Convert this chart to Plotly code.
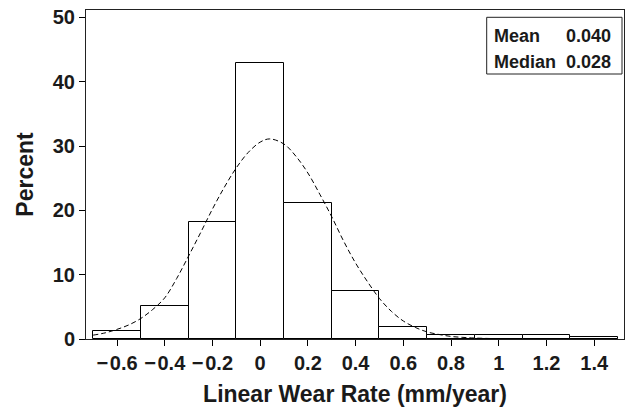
import plotly.graph_objects as go

# Histogram data (percent per 0.2 mm/year bin)
bin_centers = [-0.6, -0.4, -0.2, 0.0, 0.2, 0.4, 0.6, 0.8, 1.0, 1.2, 1.4]
bin_percent = [1.25, 5.2, 18.2, 42.9, 21.2, 7.5, 1.9, 0.7, 0.7, 0.7, 0.3]
bin_width = 0.2

# Fitted normal curve
curve_x = [-0.70, -0.65, -0.60, -0.55, -0.50, -0.45, -0.40, -0.35, -0.30, -0.25,
           -0.20, -0.15, -0.10, -0.05, 0.00, 0.04, 0.10, 0.15, 0.20, 0.25,
           0.30, 0.35, 0.40, 0.45, 0.50, 0.55, 0.60, 0.65, 0.70, 0.75,
           0.80, 0.85, 0.90, 1.00, 1.10, 1.20, 1.30, 1.40, 1.50]
curve_y = [0.6, 0.95, 1.5, 2.2, 3.2, 4.6, 6.4, 9.4, 12.9, 16.5,
           20.2, 23.6, 26.6, 29.0, 30.6, 31.1, 30.3, 28.4, 25.8, 22.5,
           19.0, 15.2, 11.8, 8.9, 6.3, 4.3, 2.8, 1.8, 1.1, 0.7,
           0.4, 0.25, 0.15, 0.05, 0.02, 0.0, 0.0, 0.0, 0.0]

x_tickvals = [-0.6, -0.4, -0.2, 0, 0.2, 0.4, 0.6, 0.8, 1.0, 1.2, 1.4]
x_ticktext = ["\u2212\u200a0.6", "\u2212\u200a0.4", "\u2212\u200a0.2", "0", "0.2", "0.4", "0.6", "0.8", "1", "1.2", "1.4"]
y_tickvals = [0, 10, 20, 30, 40, 50]

stat_labels = ["Mean", "Median"]
stat_values = ["0.040", "0.028"]

FONT = "Liberation Sans, Arial, sans-serif"
TXT = "#1a1a1a"

fig = go.Figure()
fig.add_trace(go.Bar(
    x=bin_centers, y=bin_percent, width=[bin_width] * len(bin_centers),
    marker=dict(color="white", line=dict(color="black", width=1)),
    showlegend=False, hoverinfo="x+y",
))
fig.add_trace(go.Scatter(
    x=curve_x, y=curve_y, mode="lines", line=dict(color="black", width=1, dash="5px,3px", shape="spline"),
    showlegend=False,
))

fig.update_layout(
    width=627, height=410,
    margin=dict(l=86, r=3, t=10, b=71),
    paper_bgcolor="white", plot_bgcolor="white",
    bargap=0,
    font=dict(family=FONT, color="black"),
    xaxis=dict(
        range=[-0.730, 1.525], tickvals=x_tickvals, ticktext=x_ticktext,
        ticks="outside", ticklen=6, tickwidth=1, tickcolor="black",
        showline=True, linecolor="#222", linewidth=1, mirror=True,
        showgrid=False, zeroline=False,
        tickfont=dict(family=FONT, size=20, weight="bold", color=TXT),
        title=dict(text="Linear Wear Rate (mm/year)", font=dict(family=FONT, size=23, weight="bold", color=TXT), standoff=12),
    ),
    yaxis=dict(
        range=[0, 51.14], tickvals=y_tickvals,
        ticks="outside", ticklen=6, tickwidth=1, tickcolor="black",
        showline=True, linecolor="#222", linewidth=1, mirror=True,
        showgrid=False, zeroline=False,
        tickfont=dict(family=FONT, size=20, weight="bold", color=TXT),
        title=dict(text="Percent", font=dict(family=FONT, size=23, weight="bold", color=TXT), standoff=12),
    ),
)

# Statistics box
fig.add_shape(type="rect", xref="paper", yref="paper",
              x0=(486.7 - 86) / 538, x1=(622 - 86) / 538,
              y0=(339 - 74) / 329, y1=(339 - 17.3) / 329,
              line=dict(color="#222", width=1), fillcolor="white", layer="above")
for i, (lab, val) in enumerate(zip(stat_labels, stat_values)):
    yc = (339 - (35.5 + 26.5 * i)) / 329
    fig.add_annotation(xref="paper", yref="paper", x=(492 - 86) / 538, y=yc,
                       text=lab, showarrow=False, xanchor="left", yanchor="middle",
                       font=dict(family=FONT, size=18, weight="bold", color=TXT))
    fig.add_annotation(xref="paper", yref="paper", x=(613 - 86) / 538, y=yc,
                       text=val, showarrow=False, xanchor="right", yanchor="middle",
                       font=dict(family=FONT, size=18, weight="bold", color=TXT))

fig.write_html("out.html")
